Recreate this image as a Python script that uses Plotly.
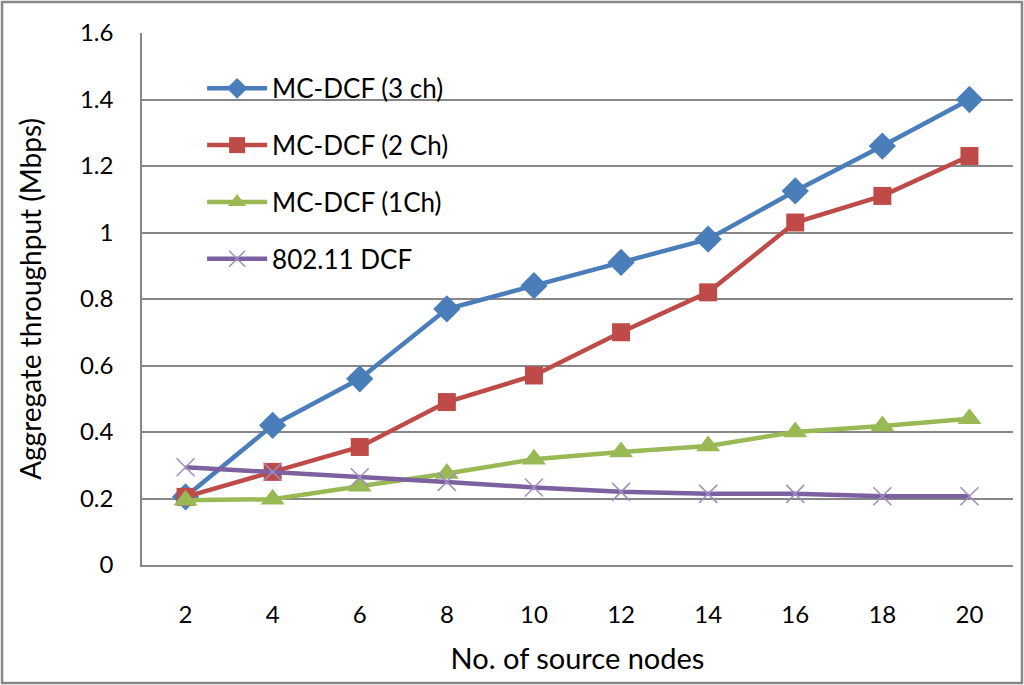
import plotly.graph_objects as go

nodes = [2, 4, 6, 8, 10, 12, 14, 16, 18, 20]

# aggregate throughput (Mbps)
mc3 = [0.205, 0.42, 0.56, 0.77, 0.84, 0.91, 0.98, 1.125, 1.26, 1.40]
mc2 = [0.205, 0.28, 0.355, 0.49, 0.57, 0.70, 0.82, 1.03, 1.11, 1.23]
mc1 = [0.195, 0.198, 0.237, 0.275, 0.318, 0.34, 0.358, 0.40, 0.418, 0.44]
dcf = [0.294, 0.28, 0.264, 0.25, 0.233, 0.22, 0.214, 0.214, 0.207, 0.207]

names = ['MC-DCF (3 ch)', 'MC-DCF (2 Ch)', 'MC-DCF (1Ch)', '802.11 DCF']

fnt = 'Lato, Calibri, sans-serif'
grid = '#878787'

fig = go.Figure()

fig.add_trace(go.Scatter(x=nodes, y=mc3, mode='lines+markers', name=names[0],
                         legendgroup='a',
                         line=dict(color='#4a7ebb', width=4.5),
                         marker=dict(symbol='diamond', size=21, color='#4a7ebb')))
fig.add_trace(go.Scatter(x=nodes, y=mc2, mode='lines+markers', name=names[1],
                         legendgroup='b',
                         line=dict(color='#be4b48', width=4.5),
                         marker=dict(symbol='square', size=18, color='#be4b48')))
fig.add_trace(go.Scatter(x=nodes, y=mc1, mode='lines+markers', name=names[2],
                         legendgroup='c',
                         line=dict(color='#98b954', width=4.5),
                         marker=dict(symbol='triangle-up', size=21, color='#98b954')))
fig.add_trace(go.Scatter(x=nodes, y=dcf, mode='lines+markers', name=names[3],
                         legendgroup='d',
                         line=dict(color='#7d60a0', width=4.5),
                         marker=dict(symbol='x-thin', size=18,
                                     line=dict(color='#a08cc0', width=1.5))))

fig.update_layout(
    width=1024, height=685,
    paper_bgcolor='white', plot_bgcolor='white',
    font=dict(family=fnt, size=24, color='black'),
    margin=dict(l=142, r=11, t=33, b=120),
    xaxis=dict(
        title=dict(text='No. of source nodes', font=dict(size=29), standoff=22),
        range=[1, 21], tickvals=nodes, ticks='', showgrid=False,
        showline=True, linecolor=grid, linewidth=1.5, zeroline=False,
        ticklabelstandoff=27,
    ),
    yaxis=dict(
        title=dict(text='Aggregate throughput (Mbps)', font=dict(size=28), standoff=30),
        range=[0, 1.6], dtick=0.2, ticks='', showgrid=True,
        gridcolor=grid, gridwidth=1.5, showline=True, linecolor=grid,
        linewidth=1.5, zeroline=False, ticklabelstandoff=22,
    ),
    legend=dict(
        x=0.069, y=0.94, xanchor='left', yanchor='top',
        bgcolor='rgba(0,0,0,0)', font=dict(size=26),
        tracegroupgap=20, itemwidth=60,
    ),
    showlegend=True,
)

# outer chart frame
fig.add_shape(type='rect', xref='paper', yref='paper',
              x0=-0.1607, x1=1.0103, y0=-0.2218, y1=1.0583,
              line=dict(color='#878787', width=2.5))

fig.write_html("out.html", config={'displayModeBar': False},
               post_script="document.body.style.margin='0';")
